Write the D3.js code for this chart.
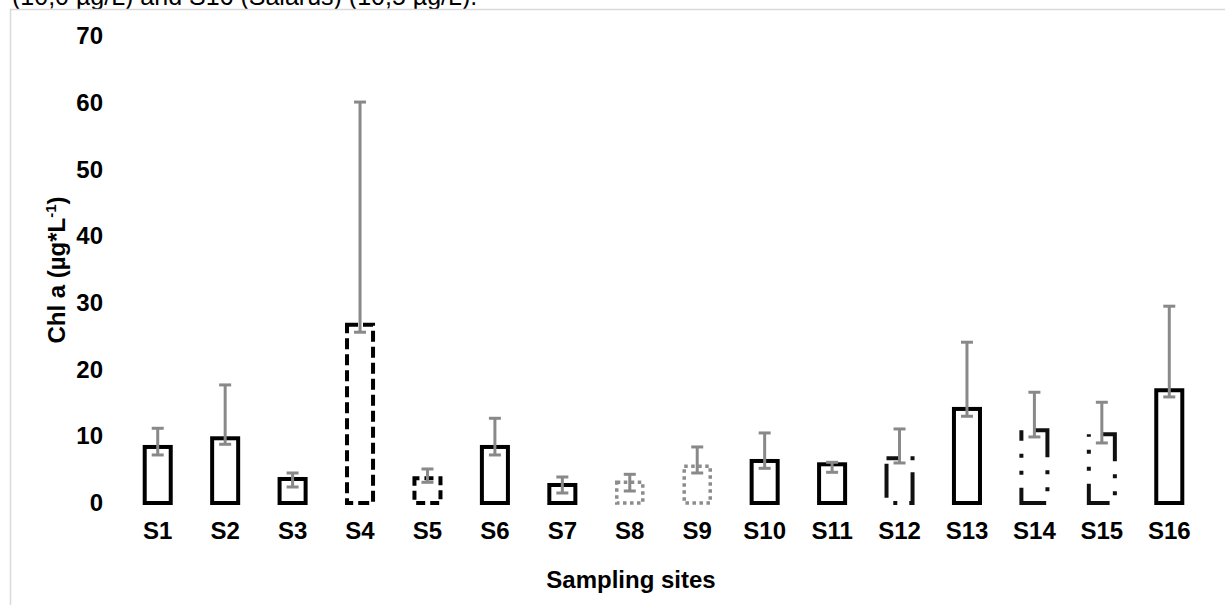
<!DOCTYPE html>
<html>
<head>
<meta charset="utf-8">
<script src="https://cdn.jsdelivr.net/npm/d3@7"></script>
<style>
  html, body { margin: 0; padding: 0; background: #fff; overflow: hidden; }
  svg { display: block; font-family: "Liberation Sans", Arial, sans-serif; }
</style>
</head>
<body>
<svg id="chart" width="1225" height="605"></svg>
<script>
// Sampling sites and mean chlorophyll a (µg/L) with error-bar limits
const sites = ["S1","S2","S3","S4","S5","S6","S7","S8","S9","S10","S11","S12","S13","S14","S15","S16"];
const chlMean = [8.4, 9.7, 3.6, 26.7, 3.7, 8.4, 2.7, 3.1, 5.5, 6.3, 5.8, 6.7, 14.1, 10.9, 10.3, 16.9];
const errUpper = [11.2, 17.7, 4.5, 60.1, 5.1, 12.7, 3.9, 4.3, 8.4, 10.5, 6.1, 11.1, 24.1, 16.6, 15.1, 29.5];
const errLower = [7.2, 8.8, 2.4, 25.6, 3.1, 7.2, 1.5, 1.8, 4.5, 5.2, 4.6, 6.0, 13.0, 9.9, 9.0, 15.9];
const yTicks = [0, 10, 20, 30, 40, 50, 60, 70];

// Outline style for each site's bar
const outlineKind = ["solid","solid","solid","dash","shortdash","solid","solid","dot","dot",
                     "solid","solid","longdashdot","solid","longdashdotdot","longdashdotdot","solid"];
const outlineStyles = {
  solid:          { color: "#000", width: 4, dash: null, offset: 0 },
  dash:           { color: "#000", width: 4, dash: "11,5", offset: 0 },
  shortdash:      { color: "#000", width: 4, dash: "9,5", offset: 4 },
  dot:            { color: "#8c8c8c", width: 3.5, dash: "3.5,3.5", offset: 0 },
  longdashdot:    { color: "#111", width: 4, dash: "34,12,4,12", offset: 22 },
  longdashdotdot: { color: "#111", width: 4, dash: "40,13,4,13,4,13", offset: 74 }
};

const svg = d3.select("#chart");

// Caption line running off the top edge
svg.append("text")
  .attr("x", 12).attr("y", 5)
  .attr("font-size", 25)
  .attr("fill", "#000")
  .text("(10,0 µg/L) and S16 (Salarus) (10,5 µg/L).");

// Chart frame
svg.append("rect")
  .attr("x", 10.5).attr("y", 9.5)
  .attr("width", 1400).attr("height", 800)
  .attr("fill", "none")
  .attr("stroke", "#d9d9d9")
  .attr("stroke-width", 1.5);

const x = d3.scaleBand()
  .domain(sites)
  .range([124, 1203])
  .paddingInner(0.614)
  .paddingOuter(0.307);

const y = d3.scaleLinear()
  .domain([0, 70])
  .range([503, 36]);

// Y axis (labels only)
const yAxis = svg.append("g")
  .attr("transform", "translate(124,0)")
  .call(d3.axisLeft(y).tickValues(yTicks).tickSize(0).tickPadding(21));
yAxis.select(".domain").remove();
yAxis.selectAll("text")
  .attr("font-family", "'Liberation Sans', Arial, sans-serif")
  .attr("font-size", 24).attr("font-weight", "bold").attr("fill", "#000");

// X axis (labels only)
const xAxis = svg.append("g")
  .attr("transform", "translate(0,503)")
  .call(d3.axisBottom(x).tickSize(0).tickPadding(19));
xAxis.select(".domain").remove();
xAxis.selectAll("text")
  .attr("font-family", "'Liberation Sans', Arial, sans-serif")
  .attr("font-size", 24).attr("font-weight", "bold").attr("fill", "#000");

// Bars (hollow outlines)
const rows = sites.map((s, i) => ({ site: s, mean: chlMean[i], hi: errUpper[i], lo: errLower[i], kind: outlineKind[i] }));

svg.append("g").selectAll("rect")
  .data(rows)
  .join("rect")
  .attr("x", d => x(d.site))
  .attr("y", d => y(d.mean))
  .attr("width", x.bandwidth())
  .attr("height", d => y(0) - y(d.mean))
  .attr("fill", "none")
  .attr("stroke", d => outlineStyles[d.kind].color)
  .attr("stroke-width", d => outlineStyles[d.kind].width)
  .attr("stroke-dasharray", d => outlineStyles[d.kind].dash)
  .attr("stroke-dashoffset", d => outlineStyles[d.kind].offset)
  .attr("stroke-linecap", "butt");

// Error bars
const errColor = "#898989";
const capHalf = 6;
const eb = svg.append("g").selectAll("g")
  .data(rows)
  .join("g")
  .attr("stroke", errColor)
  .attr("stroke-width", 3);
eb.append("line")
  .attr("x1", d => x(d.site) + x.bandwidth() / 2)
  .attr("x2", d => x(d.site) + x.bandwidth() / 2)
  .attr("y1", d => y(d.lo))
  .attr("y2", d => y(d.hi));
eb.append("line")
  .attr("x1", d => x(d.site) + x.bandwidth() / 2 - capHalf)
  .attr("x2", d => x(d.site) + x.bandwidth() / 2 + capHalf)
  .attr("y1", d => y(d.hi))
  .attr("y2", d => y(d.hi));
eb.append("line")
  .attr("x1", d => x(d.site) + x.bandwidth() / 2 - capHalf)
  .attr("x2", d => x(d.site) + x.bandwidth() / 2 + capHalf)
  .attr("y1", d => y(d.lo))
  .attr("y2", d => y(d.lo));

// Axis titles
svg.append("text")
  .attr("x", 631).attr("y", 588)
  .attr("text-anchor", "middle")
  .attr("font-size", 24).attr("font-weight", "bold")
  .text("Sampling sites");

const yTitle = svg.append("text")
  .attr("transform", "translate(65,270) rotate(-90)")
  .attr("text-anchor", "middle")
  .attr("font-size", 24).attr("font-weight", "bold");
yTitle.append("tspan").text("Chl a (µg*L");
yTitle.append("tspan").attr("dy", -9).attr("font-size", 15).text("-1");
yTitle.append("tspan").attr("dy", 9).text(")");
</script>
</body>
</html>
